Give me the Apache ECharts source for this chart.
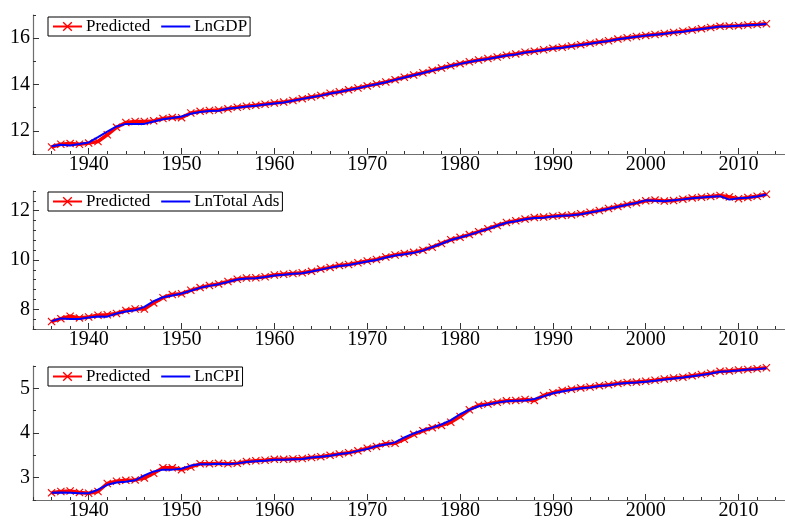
<!DOCTYPE html>
<html>
<head>
<meta charset="utf-8">
<script src="https://cdn.jsdelivr.net/npm/echarts@6/dist/echarts.min.js"></script>
<style>
  html, body { margin: 0; padding: 0; background: #fff; }
  #main { width: 785px; height: 521px; }
</style>
</head>
<body>
<div id="main"></div>
<script>
// annual observations
const years = [
  1936, 1937, 1938, 1939, 1940, 1941, 1942, 1943, 1944, 1945,
  1946, 1947, 1948, 1949, 1950, 1951, 1952, 1953, 1954, 1955,
  1956, 1957, 1958, 1959, 1960, 1961, 1962, 1963, 1964, 1965,
  1966, 1967, 1968, 1969, 1970, 1971, 1972, 1973, 1974, 1975,
  1976, 1977, 1978, 1979, 1980, 1981, 1982, 1983, 1984, 1985,
  1986, 1987, 1988, 1989, 1990, 1991, 1992, 1993, 1994, 1995,
  1996, 1997, 1998, 1999, 2000, 2001, 2002, 2003, 2004, 2005,
  2006, 2007, 2008, 2009, 2010, 2011, 2012, 2013
];

const lnGDP = [
  11.33, 11.40, 11.37, 11.43, 11.50, 11.73, 11.97, 12.19, 12.30, 12.30,
  12.30, 12.40, 12.50, 12.55, 12.62, 12.74, 12.81, 12.86, 12.87, 12.96,
  13.00, 13.05, 13.08, 13.14, 13.18, 13.22, 13.30, 13.38, 13.45, 13.52,
  13.61, 13.68, 13.76, 13.84, 13.93, 14.01, 14.10, 14.20, 14.30, 14.40,
  14.50, 14.60, 14.70, 14.80, 14.89, 14.97, 15.05, 15.10, 15.18, 15.25,
  15.30, 15.38, 15.43, 15.49, 15.55, 15.59, 15.65, 15.71, 15.76, 15.82,
  15.88, 15.95, 16.01, 16.06, 16.11, 16.15, 16.19, 16.24, 16.28, 16.34,
  16.40, 16.45, 16.50, 16.51, 16.54, 16.56, 16.58, 16.61
];
const predGDP = [
  11.30, 11.42, 11.45, 11.42, 11.47, 11.54, 11.83, 12.15, 12.36, 12.40,
  12.40, 12.43, 12.53, 12.58, 12.57, 12.77, 12.84, 12.88, 12.90, 12.95,
  13.02, 13.06, 13.10, 13.15, 13.20, 13.24, 13.31, 13.39, 13.46, 13.53,
  13.62, 13.69, 13.77, 13.85, 13.94, 14.02, 14.11, 14.21, 14.31, 14.41,
  14.51, 14.61, 14.71, 14.81, 14.90, 14.98, 15.06, 15.12, 15.19, 15.26,
  15.32, 15.39, 15.44, 15.50, 15.56, 15.61, 15.66, 15.72, 15.78, 15.83,
  15.89, 15.96, 16.02, 16.07, 16.12, 16.16, 16.20, 16.25, 16.30, 16.35,
  16.41, 16.46, 16.51, 16.52, 16.54, 16.57, 16.59, 16.62
];

const lnAds = [
  7.52, 7.63, 7.61, 7.61, 7.67, 7.71, 7.70, 7.83, 7.91, 7.96,
  8.10, 8.33, 8.49, 8.56, 8.64, 8.75, 8.87, 8.95, 9.02, 9.11,
  9.21, 9.25, 9.26, 9.31, 9.37, 9.40, 9.44, 9.46, 9.53, 9.61,
  9.69, 9.76, 9.80, 9.87, 9.94, 10.00, 10.10, 10.18, 10.23, 10.29,
  10.38, 10.53, 10.66, 10.81, 10.91, 11.02, 11.14, 11.26, 11.39, 11.51,
  11.57, 11.65, 11.70, 11.71, 11.77, 11.80, 11.82, 11.86, 11.93, 12.00,
  12.08, 12.16, 12.24, 12.31, 12.42, 12.40, 12.38, 12.42, 12.46, 12.51,
  12.54, 12.57, 12.59, 12.45, 12.51, 12.53, 12.58, 12.66
];
const predAds = [
  7.50, 7.62, 7.72, 7.65, 7.69, 7.76, 7.78, 7.83, 7.95, 8.01,
  8.01, 8.26, 8.47, 8.60, 8.63, 8.77, 8.88, 8.97, 9.03, 9.13,
  9.22, 9.27, 9.28, 9.32, 9.39, 9.42, 9.45, 9.48, 9.54, 9.63,
  9.70, 9.78, 9.82, 9.89, 9.96, 10.02, 10.12, 10.20, 10.26, 10.31,
  10.40, 10.52, 10.67, 10.82, 10.92, 11.03, 11.15, 11.27, 11.40, 11.52,
  11.59, 11.66, 11.72, 11.74, 11.78, 11.81, 11.83, 11.88, 11.94, 12.01,
  12.09, 12.17, 12.25, 12.32, 12.40, 12.43, 12.39, 12.41, 12.47, 12.52,
  12.55, 12.58, 12.62, 12.56, 12.49, 12.54, 12.59, 12.67
];

const lnCPI = [
  2.66, 2.67, 2.66, 2.65, 2.65, 2.73, 2.84, 2.89, 2.91, 2.94,
  3.05, 3.14, 3.18, 3.18, 3.20, 3.27, 3.30, 3.30, 3.31, 3.30,
  3.32, 3.35, 3.37, 3.38, 3.40, 3.40, 3.41, 3.42, 3.45, 3.47,
  3.49, 3.53, 3.55, 3.60, 3.64, 3.71, 3.74, 3.79, 3.90, 3.99,
  4.06, 4.12, 4.19, 4.29, 4.42, 4.52, 4.60, 4.64, 4.68, 4.71,
  4.72, 4.73, 4.76, 4.82, 4.89, 4.93, 4.97, 5.00, 5.02, 5.05,
  5.07, 5.10, 5.12, 5.13, 5.15, 5.17, 5.20, 5.22, 5.24, 5.27,
  5.30, 5.33, 5.37, 5.38, 5.40, 5.42, 5.43, 5.45
];
const predCPI = [
  2.66, 2.69, 2.70, 2.67, 2.65, 2.69, 2.87, 2.92, 2.94, 2.95,
  2.99, 3.10, 3.22, 3.22, 3.18, 3.24, 3.31, 3.31, 3.32, 3.31,
  3.32, 3.36, 3.38, 3.39, 3.41, 3.41, 3.42, 3.43, 3.45, 3.47,
  3.50, 3.53, 3.56, 3.60, 3.66, 3.70, 3.76, 3.77, 3.86, 3.97,
  4.05, 4.12, 4.17, 4.24, 4.37, 4.52, 4.62, 4.65, 4.69, 4.72,
  4.73, 4.75, 4.73, 4.84, 4.90, 4.95, 4.98, 5.01, 5.03, 5.06,
  5.08, 5.11, 5.13, 5.14, 5.16, 5.18, 5.21, 5.23, 5.25, 5.28,
  5.31, 5.34, 5.38, 5.39, 5.41, 5.42, 5.44, 5.46
];

// tick labels
const xMajor = [1940, 1950, 1960, 1970, 1980, 1990, 2000, 2010];
const xMinor = [1934, 1936, 1938, 1942, 1944, 1946, 1948, 1952, 1954, 1956, 1958,
  1962, 1964, 1966, 1968, 1972, 1974, 1976, 1978, 1982, 1984, 1986, 1988,
  1992, 1994, 1996, 1998, 2002, 2004, 2006, 2008, 2012, 2014];

const panelNames = ['LnGDP', 'LnTotal Ads', 'LnCPI'];
const panelActual = [lnGDP, lnAds, lnCPI];
const panelPred = [predGDP, predAds, predCPI];
const yRange = [[11, 17], [7.2, 12.8], [2.5, 5.5]];
const yMajor = [[12, 14, 16], [8, 10, 12], [3, 4, 5]];
const yMinor = [
  [11, 13, 15, 17],
  [7.2, 7.6, 8.4, 8.8, 9.2, 9.6, 10.4, 10.8, 11.2, 11.6, 12.4, 12.8],
  [2.5, 3.5, 4.5, 5.5]
];

const gridTops = [15, 191, 366];
const gridHeights = [139, 138, 139];
const legendTops = [17, 192, 367];

const serif = '"Liberation Serif", "DejaVu Serif", serif';
const axisGray = '#6e6e6e';
const crossIcon = 'path://M0,1L1,0L5,4L9,0L10,1L6,5L10,9L9,10L5,6L1,10L0,9L4,5Z';

let myChart = echarts.init(document.getElementById('main'));

let grids = [], xAxes = [], yAxes = [], series = [], legends = [];

for (let i = 0; i < 3; i++) {
  grids.push({ left: 33, right: 0, top: gridTops[i], height: gridHeights[i] });

  // major x ticks + labels
  xAxes.push({
    type: 'value', gridIndex: i, min: 1934, max: 2015, position: 'bottom',
    axisLine: { lineStyle: { color: axisGray, width: 1.2 } },
    axisTick: { inside: true, length: 6, customValues: xMajor, lineStyle: { color: '#333' } },
    axisLabel: {
      customValues: xMajor, margin: 1, color: '#000', fontSize: 20, fontFamily: serif,
      formatter: (v) => String(v)
    },
    splitLine: { show: false }
  });
  // minor x ticks
  xAxes.push({
    type: 'value', gridIndex: i, min: 1934, max: 2015, position: 'bottom', offset: 0,
    axisLine: { show: false },
    axisTick: { inside: true, length: 3, customValues: xMinor, lineStyle: { color: '#333' } },
    axisLabel: { show: false },
    splitLine: { show: false }
  });

  yAxes.push({
    type: 'value', gridIndex: i, min: yRange[i][0], max: yRange[i][1], position: 'left',
    axisLine: { show: true, lineStyle: { color: axisGray, width: 1.2 } },
    axisTick: { inside: true, length: 6, customValues: yMajor[i], lineStyle: { color: '#333' } },
    axisLabel: { customValues: yMajor[i], margin: 3, color: '#000', fontSize: 20, fontFamily: serif },
    splitLine: { show: false }
  });
  yAxes.push({
    type: 'value', gridIndex: i, min: yRange[i][0], max: yRange[i][1], position: 'left', offset: 0,
    axisLine: { show: false },
    axisTick: { inside: true, length: 3, customValues: yMinor[i], lineStyle: { color: '#333' } },
    axisLabel: { show: false },
    splitLine: { show: false }
  });

  series.push({
    name: 'Predicted',
    type: 'line',
    xAxisIndex: 2 * i, yAxisIndex: 2 * i,
    data: years.map((y, k) => [y, panelPred[i][k]]),
    symbol: crossIcon,
    symbolSize: 8,
    showSymbol: true,
    lineStyle: { color: '#ff0000', width: 3.5 },
    itemStyle: { color: '#ff0000' },
    z: 2
  });
  series.push({
    name: panelNames[i],
    type: 'line',
    xAxisIndex: 2 * i, yAxisIndex: 2 * i,
    data: years.map((y, k) => [y, panelActual[i][k]]),
    symbol: 'none',
    lineStyle: { color: '#0000ff', width: 2 },
    itemStyle: { color: '#0000ff' },
    z: 3
  });

  legends.push({
    data: ['Predicted', { name: panelNames[i], itemStyle: { opacity: 0 } }],
    left: 48, top: legendTops[i],
    orient: 'horizontal',
    backgroundColor: '#fff',
    borderColor: '#000', borderWidth: 1, borderRadius: 0,
    padding: [1, 3, 1, 4],
    itemWidth: 29, itemHeight: 12, itemGap: 10,
    textStyle: { fontFamily: serif, fontSize: 17, color: '#000', padding: [0, 0, 0, -1] },
    selectedMode: false
  });
}

myChart.setOption({
  animation: false,
  backgroundColor: '#fff',
  grid: grids,
  xAxis: xAxes,
  yAxis: yAxes,
  legend: legends,
  series: series
});

window.addEventListener('resize', function () {
  myChart.resize();
});
</script>
</body>
</html>
